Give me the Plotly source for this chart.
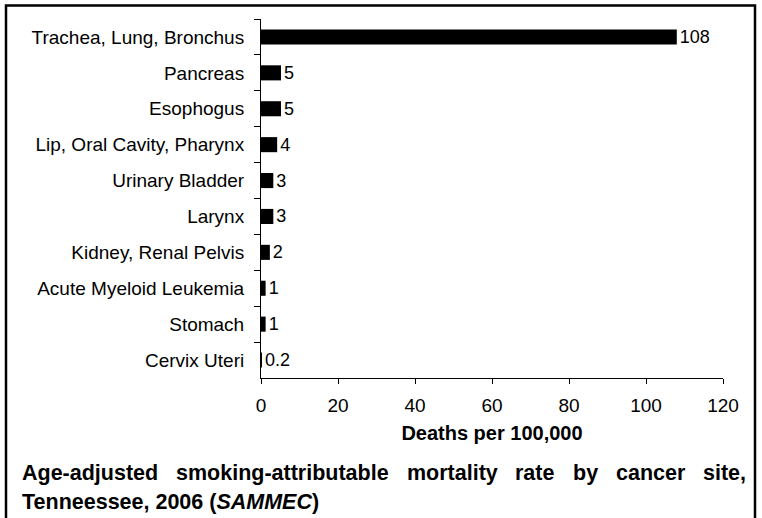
import plotly.graph_objects as go

categories = ["Trachea, Lung, Bronchus", "Pancreas", "Esophogus", "Lip, Oral Cavity, Pharynx",
              "Urinary Bladder", "Larynx", "Kidney, Renal Pelvis", "Acute Myeloid Leukemia",
              "Stomach", "Cervix Uteri"]
values = [108, 5.2, 5.2, 4.2, 3.2, 3.2, 2.3, 1.2, 1.2, 0.2]
value_labels = ["108", "5", "5", "4", "3", "3", "2", "1", "1", "0.2"]
x_ticks = [0, 20, 40, 60, 80, 100, 120]
x_title = "Deaths per 100,000"
caption_line1 = ["Age-adjusted", "smoking-attributable", "mortality", "rate", "by", "cancer", "site,"]
caption_line2 = "Tenneessee, 2006 (<i>SAMMEC</i>)"

W, H = 762, 518
L, R, T, B = 261, 39, 19, 140
PW, PH = W - L - R, H - T - B

def px2x(px):
    return (px - L) / PW

def px2y(py):
    return 1 - (py - T) / PH

FONT = "Liberation Sans, Arial, sans-serif"
CAP_SIZE = 21.5

# Arial Bold advance widths (1/1000 em) for justified layout of caption line 1
BOLD_W = {"A": 722, "g": 611, "e": 556, "-": 333, "a": 556, "d": 611, "j": 278, "u": 611,
          "s": 556, "t": 333, "m": 889, "o": 611, "k": 556, "i": 278, "n": 611, "r": 389,
          "b": 611, "l": 278, "y": 556, "c": 556, ",": 278}

def word_width(w, size):
    return sum(BOLD_W.get(ch, 556) for ch in w) * size / 1000.0

fig = go.Figure(go.Bar(
    x=values, y=categories, orientation="h",
    marker=dict(color="black", line=dict(width=0)),
    text=value_labels, textposition="outside", constraintext="none",
    textfont=dict(family=FONT, size=18, color="black"),
    cliponaxis=False, hoverinfo="skip",
))

fig.update_layout(
    width=W, height=H,
    margin=dict(l=L, r=R, t=T, b=B, pad=0),
    paper_bgcolor="white", plot_bgcolor="white",
    bargap=0.58, showlegend=False,
    font=dict(family=FONT, size=19, color="black"),
)
fig.update_xaxes(
    range=[0, 120], tickvals=x_ticks, ticks="outside", ticklen=5, tickcolor="black",
    showline=True, linecolor="black", linewidth=1, showgrid=False, zeroline=False,
    tickfont=dict(size=19), ticklabelstandoff=5,
    title=dict(text="<b>" + x_title + "</b>", font=dict(size=20), standoff=11),
)
fig.update_yaxes(
    categoryorder="array", categoryarray=categories, autorange="reversed",
    ticks="outside", ticklen=6, tickcolor="black", tickson="boundaries",
    showline=True, linecolor="black", linewidth=1, showgrid=False, zeroline=False,
    tickfont=dict(size=19), ticklabelstandoff=12,
)

# frame
fig.add_shape(type="rect", xref="paper", yref="paper",
              x0=px2x(6), x1=px2x(755), y0=px2y(540), y1=px2y(5.5),
              line=dict(color="black", width=2.5), fillcolor="rgba(0,0,0,0)", layer="below")

# caption (justified first line)
left_px, right_px = 20, 744
widths = [word_width(w, CAP_SIZE) for w in caption_line1]
gap = (right_px - left_px - sum(widths)) / (len(widths) - 1)
xpos = left_px
for w, wd in zip(caption_line1, widths):
    fig.add_annotation(text="<b>" + w + "</b>", xref="paper", yref="paper",
                       x=px2x(xpos), y=px2y(473), xanchor="left",
                       yanchor="middle", showarrow=False, font=dict(size=CAP_SIZE, family=FONT))
    xpos += wd + gap
fig.add_annotation(text="<b>" + caption_line2 + "</b>", xref="paper", yref="paper",
                   x=px2x(20), y=px2y(502), xanchor="left", yanchor="middle",
                   showarrow=False, font=dict(size=CAP_SIZE, family=FONT))

fig.write_html("out.html", config={"displayModeBar": False},
               post_script="document.body.style.margin='0';document.body.style.overflow='hidden';")
